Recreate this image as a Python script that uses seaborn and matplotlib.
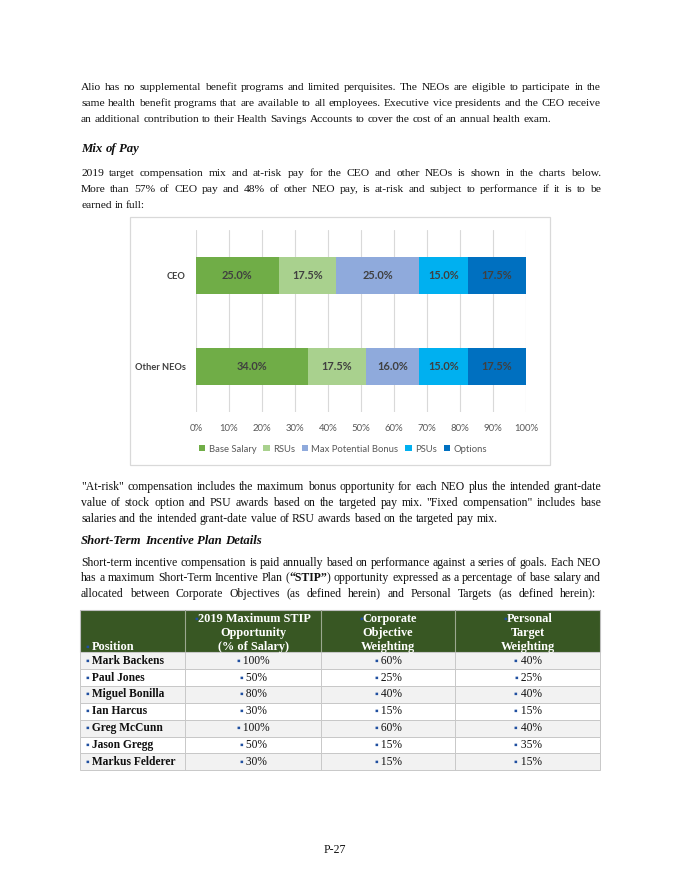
import math
import numpy as np
import pandas as pd
import matplotlib
matplotlib.use("Agg")
import matplotlib.pyplot as plt
from matplotlib.patches import Rectangle, Patch
import seaborn as sns

# ---------------- data ----------------
categories = ["CEO", "Other NEOs"]
base_salary = [25.0, 34.0]
rsus = [17.5, 17.5]
max_bonus = [25.0, 16.0]
psus = [15.0, 15.0]
options = [17.5, 17.5]
series_names = ["Base Salary", "RSUs", "Max Potential Bonus", "PSUs", "Options"]
series_colors = ["#70AD47", "#A9D18E", "#8FAADC", "#00B0F0", "#0070C0"]
x_ticks = [0, 10, 20, 30, 40, 50, 60, 70, 80, 90, 100]

positions = ["Mark Backens", "Paul Jones", "Miguel Bonilla", "Ian Harcus",
             "Greg McCunn", "Jason Gregg", "Markus Felderer"]
stip_opportunity = ["100%", "50%", "80%", "30%", "100%", "50%", "30%"]
corporate_weight = ["60%", "25%", "40%", "15%", "60%", "15%", "15%"]
personal_weight = ["40%", "25%", "40%", "15%", "40%", "35%", "15%"]
table_headers = [["Position"],
                 ["2019 Maximum STIP", "Opportunity", "(% of Salary)"],
                 ["Corporate", "Objective", "Weighting"],
                 ["Personal", "Target", "Weighting"]]

para1 = ["Alio has no supplemental benefit programs and limited perquisites. The NEOs are eligible to participate in the",
         "same health benefit programs that are available to all employees. Executive vice presidents and the CEO receive",
         "an additional contribution to their Health Savings Accounts to cover the cost of an annual health exam."]
heading1 = "Mix of Pay"
para2 = ["2019 target compensation mix and at-risk pay for the CEO and other NEOs is shown in the charts below.",
         "More than 57% of CEO pay and 48% of other NEO pay, is at-risk and subject to performance if it is to be",
         "earned in full:"]
para3 = ['"At-risk" compensation includes the maximum bonus opportunity for each NEO plus the intended grant-date',
         'value of stock option and PSU awards based on the targeted pay mix. "Fixed compensation" includes base',
         'salaries and the intended grant-date value of RSU awards based on the targeted pay mix.']
heading2 = "Short-Term Incentive Plan Details"
para4 = ["Short-term incentive compensation is paid annually based on performance against a series of goals. Each NEO",
         "has a maximum Short-Term Incentive Plan (**“STIP”**) opportunity expressed as a percentage of base salary and",
         "allocated between Corporate Objectives (as defined herein) and Personal Targets (as defined herein):"]
page_number = "P-27"

# ---------------- figure ----------------
W, H = 680, 880
sns.set_theme(style="white")
plt.rcParams["font.family"] = ["Liberation Serif", "DejaVu Sans"]
fig = plt.figure(figsize=(W / 100, H / 100), dpi=100)
fig.patch.set_facecolor("white")
R = fig.canvas.get_renderer()

def fx(x):
    return x / W

SERIF = ["Liberation Serif", "DejaVu Sans"]
TEXT_L, TEXT_R = 81, 601
INK = "#111111"

def width_of(t):
    return t.get_window_extent(renderer=R).width

def place(t, x, y):
    """Put text t with its baseline on pixel row y (from top), compensating raster rounding."""
    try:
        w, h, d = R.get_text_width_height_descent(t.get_text(), t.get_fontproperties(), ismath=False)
        a = h - d
        k = int(h) - int(a)
        s = k - d
        if abs(s) > 1.5:
            s = 0.0
    except Exception:
        s = 0.0
    t.set_position((fx(x), 1 - (round(y) + s) / H))

def make(s, size, weight="normal", style="normal", color=INK, family=SERIF):
    return fig.text(0, 0, s, fontsize=size, fontweight=weight, fontstyle=style,
                    color=color, family=family, va="baseline", ha="left")

def space_w(size, weight="normal", style="normal"):
    a = make("a a", size, weight, style); b = make("aa", size, weight, style)
    w = width_of(a) - width_of(b)
    a.remove(); b.remove()
    return w

def line(text, y, size, right=None, weight="normal", style="normal"):
    words = text.split(" ")
    groups = []
    for w in words:
        parts = w.split("**")
        runs = []
        for i, p in enumerate(parts):
            if p:
                t = make(p, size, "bold" if i % 2 == 1 else weight, style)
                runs.append((t, width_of(t)))
        groups.append(runs)
    wsum = sum(sum(r[1] for r in g) for g in groups)
    if right is not None and len(groups) > 1:
        gap = max((right - TEXT_L - wsum) / (len(groups) - 1), 1.5)
    else:
        gap = space_w(size, weight, style)
    x = TEXT_L
    for g in groups:
        for t, w in g:
            place(t, x, y)
            x += w
        x += gap

def paragraph(lines, y0, size, last_right=None, step=15.8):
    for i, s in enumerate(lines):
        r = TEXT_R if i < len(lines) - 1 else last_right
        line(s, y0 + i * step, size, right=r)

SIZE_A = 8.25
SIZE_B = 8.45
paragraph(para1, 90.0, SIZE_A)
line(heading1, 151.5, 9.2, weight="bold", style="italic")
paragraph(para2, 176.0, SIZE_A)
paragraph(para3, 490.0, SIZE_B)
line(heading2, 544.0, 9.2, weight="bold", style="italic")
paragraph(para4, 565.5, SIZE_B, last_right=596)

pn = fig.text(0, 0, page_number, fontsize=8.6, family=SERIF, ha="center", va="baseline", color=INK)
place(pn, 335, 853)

# ---------------- chart ----------------
fig.add_artist(Rectangle((fx(130), 1 - 465 / H), fx(420), 248 / H, transform=fig.transFigure,
                         facecolor="white", edgecolor="#D9D9D9", lw=0.9, zorder=0))
ax = fig.add_axes([fx(196), 1 - 412 / H, fx(330), 182 / H])
ax.set_facecolor("none")
stack = np.array([base_salary, rsus, max_bonus, psus, options])
cum = np.cumsum(stack, axis=0)
df = pd.DataFrame({"category": categories})
for i in range(len(series_names) - 1, -1, -1):
    df["value"] = cum[i]
    sns.barplot(data=df, x="value", y="category", orient="h", color=series_colors[i],
                saturation=1, width=0.4, linewidth=0, ax=ax, zorder=3)
for i in range(len(series_names)):
    for j, cat in enumerate(categories):
        ax.text(cum[i][j] - stack[i][j] / 2, j, f"{stack[i][j]:.1f}%", ha="center", va="center",
                fontsize=7.9, fontweight="bold", color="#404040", family="Lato", zorder=5)
ax.set_xlim(0, 100)
ax.set_xticks(x_ticks)
ax.set_xticklabels([f"{v}%" for v in x_ticks], family="Lato", fontsize=6.9, color="#595959")
ax.set_yticks(range(len(categories)))
ax.set_yticklabels(categories, family="Lato", fontsize=6.7, fontweight="bold", color="#404040")
ax.set_xlabel(""); ax.set_ylabel("")
ax.tick_params(axis="both", length=0)
ax.tick_params(axis="x", pad=8.5)
ax.tick_params(axis="y", pad=7.5)
for s in ax.spines.values():
    s.set_visible(False)
ax.grid(axis="x", color="#D9D9D9", lw=0.8, zorder=0)
ax.set_axisbelow(True)
handles = [Patch(facecolor=c, edgecolor="none", label=n) for n, c in zip(series_names, series_colors)]
fig.legend(handles=handles, loc="center", bbox_to_anchor=(fx(343), 1 - 449 / H), ncol=5, frameon=False,
           prop={"family": "Lato", "size": 6.8}, handlelength=0.65, handleheight=0.65,
           handletextpad=0.35, columnspacing=0.75, labelcolor="#595959")

# ---------------- table ----------------
col_edges = [80, 185.5, 320.7, 455.5, 600]
head_top, head_bot = 610, 652
row_h = 16.9
BLUE = "#1F4FA0"
GREEN = "#385723"
BUL = 7.5

fig.add_artist(Rectangle((fx(col_edges[0]), 1 - head_bot / H), fx(col_edges[-1] - col_edges[0]),
                         (head_bot - head_top) / H, transform=fig.transFigure,
                         facecolor=GREEN, edgecolor="#BFBFBF", lw=0.8))
for c in range(1, 4):
    fig.add_artist(plt.Line2D([fx(col_edges[c])] * 2, [1 - head_top / H, 1 - head_bot / H],
                              color="#9BA88F", lw=0.8, transform=fig.transFigure))

def cell_text(runs, x, y, align):
    arts = []
    total = 0
    for s, size, weight, color in runs:
        tt = fig.text(0, 0, s, fontsize=size, fontweight=weight, color=color, family=SERIF,
                      va="baseline", ha="left")
        w = width_of(tt)
        arts.append((tt, w)); total += w
    xs = x - total / 2 if align == "center" else x
    for tt, w in arts:
        place(tt, xs, y)
        xs += w

HS = 8.8
for c, hdr in enumerate(table_headers):
    n = len(hdr)
    for k, s in enumerate(hdr):
        yb = 650 - (n - 1 - k) * 13.8
        runs = []
        if k == 0:
            runs.append(("▪", BUL, "normal", BLUE))
            if c == 0:
                runs.append((" ", HS, "bold", "white"))
        runs.append((s, HS, "bold", "white"))
        if c == 0:
            cell_text(runs, 85.5, yb, "left")
        else:
            cell_text(runs, (col_edges[c] + col_edges[c + 1]) / 2, yb, "center")

CS = 8.3
for r in range(len(positions)):
    top = head_bot + r * row_h
    fill = "#F2F2F2" if r % 2 == 0 else "white"
    fig.add_artist(Rectangle((fx(col_edges[0]), 1 - (top + row_h) / H), fx(col_edges[-1] - col_edges[0]),
                             row_h / H, transform=fig.transFigure, facecolor=fill,
                             edgecolor="#C8C8C8", lw=0.7))
    for c in range(1, 4):
        fig.add_artist(plt.Line2D([fx(col_edges[c])] * 2, [1 - top / H, 1 - (top + row_h) / H],
                                  color="#C8C8C8", lw=0.7, transform=fig.transFigure))
    yb = top + row_h / 2 + 3.2
    cell_text([("▪", BUL, "normal", BLUE), (" " + positions[r], CS, "bold", INK)], 85.5, yb, "left")
    for c, vals in enumerate([stip_opportunity, corporate_weight, personal_weight], start=1):
        cell_text([("▪", BUL, "normal", BLUE), (" " + vals[r], CS, "normal", INK)],
                  (col_edges[c] + col_edges[c + 1]) / 2, yb, "center")

fig.savefig("out.png", dpi=100, facecolor="white")
